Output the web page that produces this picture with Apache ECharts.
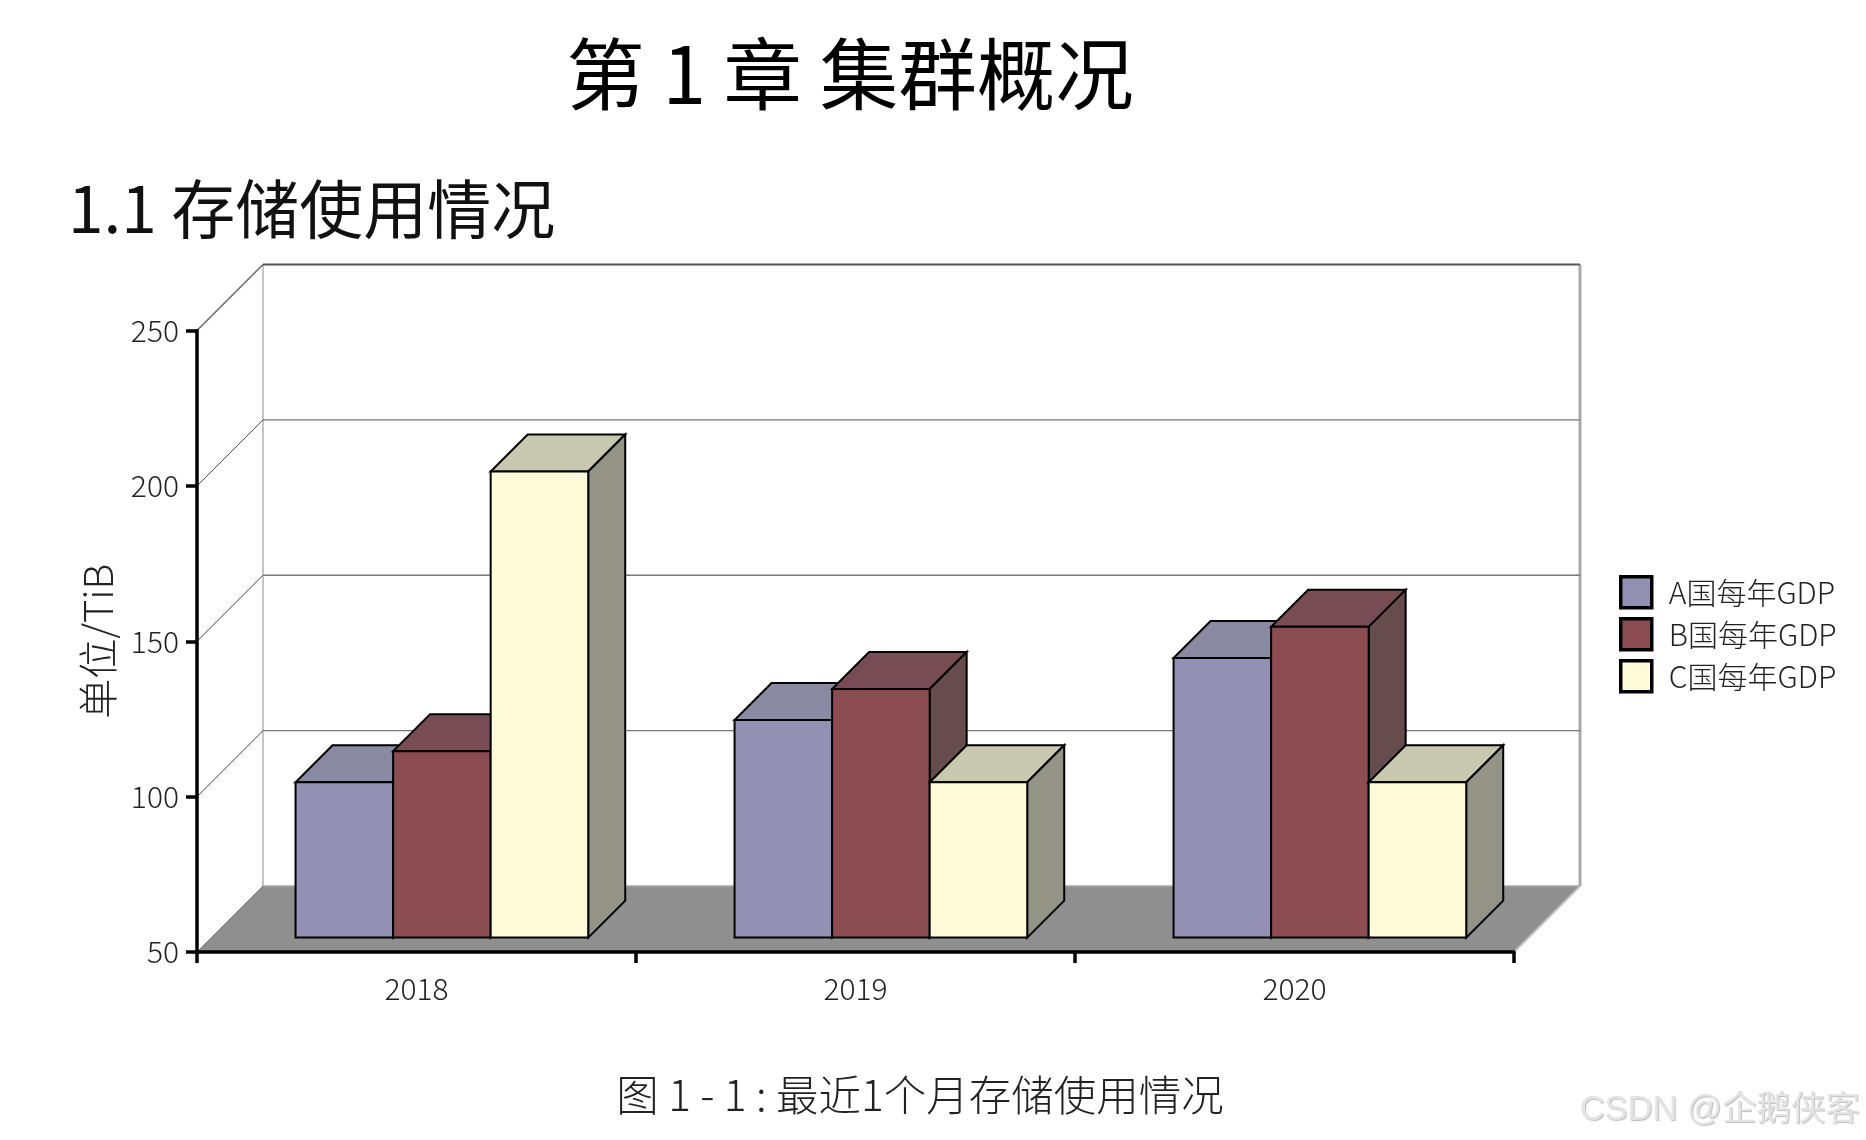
<!DOCTYPE html>
<html>
<head>
<meta charset="utf-8">
<style>html,body{margin:0;padding:0;background:#fff}#c{width:1866px;height:1140px}</style>
<script src="https://cdn.jsdelivr.net/npm/echarts@6/dist/echarts.min.js"></script>
</head>
<body>
<div id="c"></div>
<script>
const categories = ['2018', '2019', '2020'];
const seriesA = [100, 120, 140];
const seriesB = [110, 130, 150];
const seriesC = [200, 100, 100];
const seriesNames = ['A国每年GDP', 'B国每年GDP', 'C国每年GDP'];
const yTicks = [50, 100, 150, 200, 250];
const yAxisName = '单位/TiB';
const headingMain = '第 1 章 集群概况';
const headingSub = '1.1 存储使用情况';
const caption = '图 1 - 1 : 最近1个月存储使用情况';
const watermark = 'CSDN @企鹅侠客';

const FONT = '"Noto Sans CJK SC","Noto Sans",sans-serif';
const palette = [
  {front:'#9490b4', top:'#8a8aa3', side:'#6f6d86'},
  {front:'#8b4c52', top:'#784c54', side:'#664c4d'},
  {front:'#fffbd8', top:'#c8c8b0', side:'#949486'}
];
const WALL_DX = 66, WALL_DY = 66;
const FRONT_DX = 1, FRONT_D = 14.4, BAR_DX = 37, BAR_DY = 37;

function poly(points, fill, stroke, lw) {
  return {type:'polygon', shape:{points}, style:{fill, stroke, lineWidth:lw, lineJoin:'miter'}};
}
function line(x1, y1, x2, y2, stroke, lw) {
  return {type:'line', shape:{x1, y1, x2, y2}, style:{stroke, lineWidth:lw}};
}
function renderWalls(params, api) {
  const cs = params.coordSys;
  const v = api.value(1);
  const y = api.coord([0, v])[1];
  const x0 = cs.x, x1 = cs.x + cs.width;
  const children = [];
  if (v === yTicks[0]) {
    const topY = cs.y - WALL_DY;
    children.push(poly([[x0,y],[x1,y],[x1+WALL_DX,y-WALL_DY],[x0+WALL_DX,y-WALL_DY]],'#8f8f8f',null,0));
    children.push(line(x0+WALL_DX,topY,x0+WALL_DX,y-WALL_DY,'#b0b0b0',1.5));
    children.push(line(x1+WALL_DX,topY,x1+WALL_DX,y-WALL_DY,'#aaaaaa',3));
    children.push(line(x1,y,x1+WALL_DX,y-WALL_DY,'#c0c0c0',2));
    children.push(line(x0+WALL_DX,y-WALL_DY,x1+WALL_DX,y-WALL_DY,'#a8a8a8',1.5));
    children.push(line(x0,y,x0+WALL_DX,y-WALL_DY,'#777',1));
  } else {
    const strong = v === yTicks[yTicks.length-1];
    children.push(line(x0,y,x0+WALL_DX,y-WALL_DY,strong?'#666':'#444',strong?1.5:1));
    children.push(line(x0+WALL_DX,y-WALL_DY,x1+WALL_DX,y-WALL_DY,strong?'#555':'#777',strong?2:1.3));
  }
  return {type:'group', children};
}
function barRenderer(idx) {
  return function (params, api) {
    const c = palette[idx];
    const center = api.coord([api.value(0), api.value(1)]);
    const base = api.coord([api.value(0), yTicks[0]]);
    const band = api.size([1, 0])[0];
    const w = band / 4.5;
    const xl = center[0] - band / 2 + w * (1 + idx) + FRONT_DX;
    const xr = xl + w;
    const yt = center[1] - FRONT_D;
    const yb = base[1] - FRONT_D;
    const lw = 2;
    return {type:'group', children:[
      poly([[xl,yt],[xr,yt],[xr+BAR_DX,yt-BAR_DY],[xl+BAR_DX,yt-BAR_DY]],c.top,'#000',lw),
      poly([[xr,yt],[xr+BAR_DX,yt-BAR_DY],[xr+BAR_DX,yb-BAR_DY],[xr,yb]],c.side,'#000',lw),
      poly([[xl,yt],[xr,yt],[xr,yb],[xl,yb]],c.front,'#000',lw)
    ]};
  };
}
function pairs(values) { return values.map((v, i) => [i, v]); }
function txt(text, x, y, size, weight, align, color) {
  return {type:'text', x, y, z:20, style:{
    text, fontSize:size, fontWeight:weight, fontFamily:FONT, fill:color,
    textAlign:align, textVerticalAlign:'middle'}};
}

const chart = echarts.init(document.getElementById('c'), null, {renderer:'canvas', width:1866, height:1140});
chart.setOption({
  animation:false,
  backgroundColor:'#ffffff',
  grid:{left:197, top:330.5, width:1317, height:621.5, containLabel:false},
  legend:{
    orient:'vertical', left:1614, top:570, itemWidth:31, itemHeight:31, itemGap:7.5,
    icon:'rect', data:seriesNames, selectedMode:false,
    itemStyle:{borderColor:'#000', borderWidth:3.5},
    textStyle:{fontFamily:FONT, fontSize:30, fontWeight:300, color:'#222', lineHeight:31, padding:[0,0,0,12]}
  },
  xAxis:{
    type:'category', data:categories, z:5,
    axisLine:{lineStyle:{color:'#000', width:3.5}},
    axisTick:{show:true, length:11, alignWithLabel:false, lineStyle:{color:'#000', width:3.5}},
    axisLabel:{fontFamily:FONT, fontSize:30, fontWeight:300, color:'#222', margin:22},
    splitLine:{show:false}
  },
  yAxis:{
    type:'value', min:50, max:250, interval:50, z:5,
    name:yAxisName, nameLocation:'middle', nameGap:79, nameRotate:90,
    nameTextStyle:{fontFamily:FONT, fontSize:40, fontWeight:300, color:'#222'},
    axisLine:{show:true, lineStyle:{color:'#000', width:3.5}},
    axisTick:{show:true, length:11, lineStyle:{color:'#000', width:3.5}},
    axisLabel:{fontFamily:FONT, fontSize:30, fontWeight:300, color:'#222', margin:18, padding:[2,0,0,0]},
    splitLine:{show:false}
  },
  series:[
    {type:'custom', name:'walls', data:pairs(yTicks).map(p => [0, p[1]]), encode:{x:0, y:1}, renderItem:renderWalls, silent:true, z:1},
    {type:'custom', name:seriesNames[0], data:pairs(seriesA), encode:{x:0, y:1}, renderItem:barRenderer(0), itemStyle:{color:palette[0].front}, z:2},
    {type:'custom', name:seriesNames[1], data:pairs(seriesB), encode:{x:0, y:1}, renderItem:barRenderer(1), itemStyle:{color:palette[1].front}, z:3},
    {type:'custom', name:seriesNames[2], data:pairs(seriesC), encode:{x:0, y:1}, renderItem:barRenderer(2), itemStyle:{color:palette[2].front}, z:4}
  ],
  graphic:[
    txt(headingMain, 850, 74, 78.5, 400, 'center', '#000'),
    txt(headingSub, 68, 209, 64, 400, 'left', '#111'),
    txt(caption, 920, 1095, 42.5, 300, 'center', '#222'),
    {type:'text', x:1860, y:1110, z:20, style:{text:watermark, fontSize:34.5, fontFamily:'"Liberation Sans","Noto Sans CJK SC",sans-serif',
      fill:'#e4e4e4', textAlign:'right', textVerticalAlign:'middle', textShadowColor:'#bdbdbd', textShadowOffsetX:1, textShadowOffsetY:1, textShadowBlur:1}}
  ]
});
</script>
</body>
</html>
